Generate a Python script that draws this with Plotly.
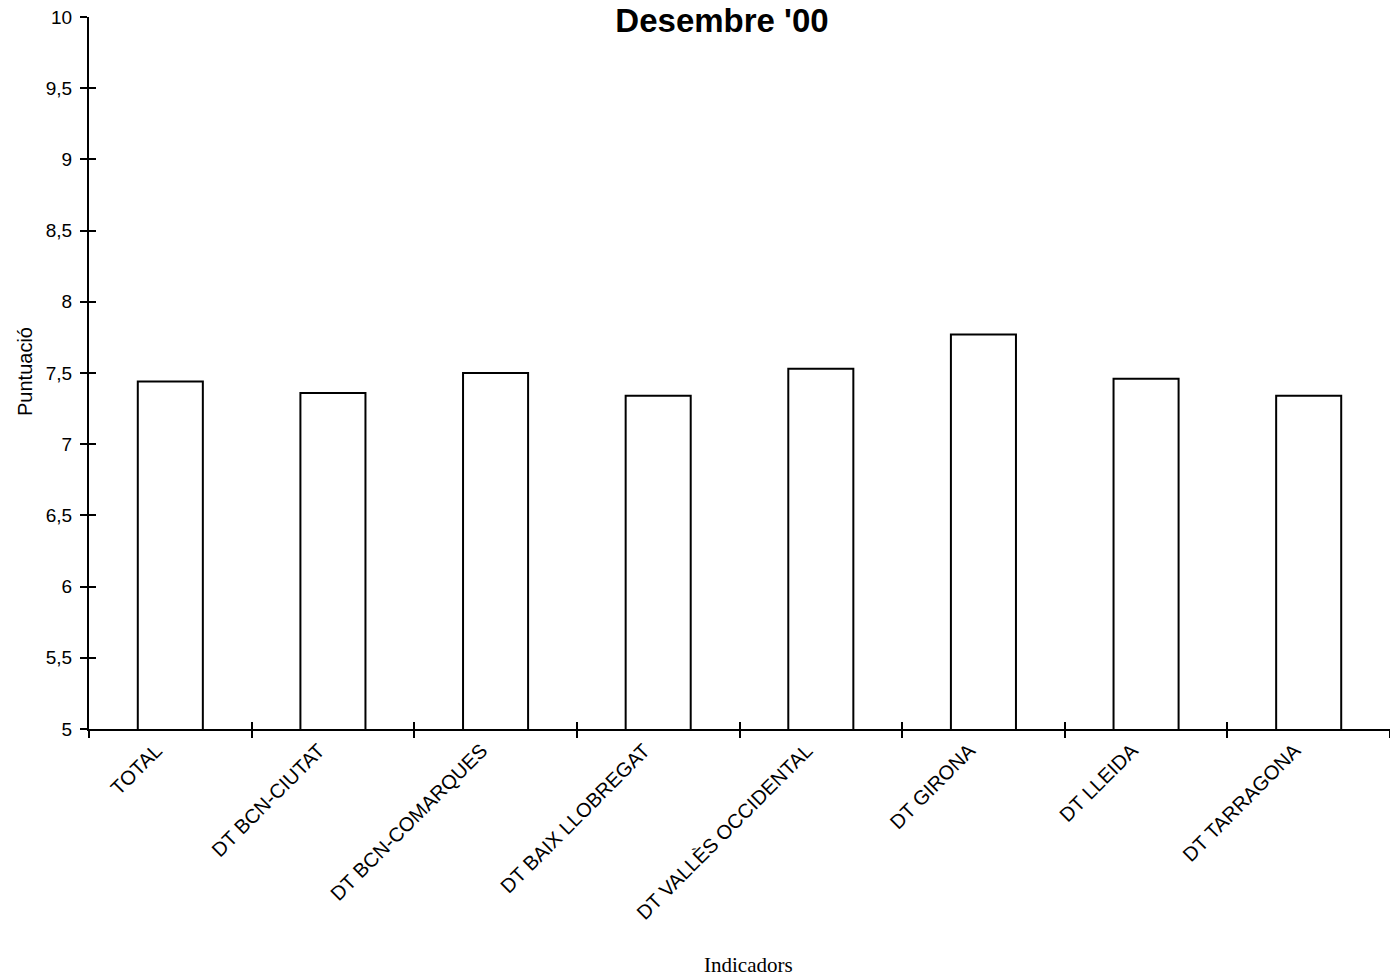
import plotly.graph_objects as go

categories = ["TOTAL", "DT BCN-CIUTAT", "DT BCN-COMARQUES", "DT BAIX LLOBREGAT",
              "DT VALLÈS OCCIDENTAL", "DT GIRONA", "DT LLEIDA", "DT TARRAGONA"]
values = [7.44, 7.36, 7.50, 7.34, 7.53, 7.77, 7.46, 7.34]
y_ticks = [5, 5.5, 6, 6.5, 7, 7.5, 8, 8.5, 9, 9.5, 10]
title_text = "Desembre '00"
x_title = "Indicadors"
y_title = "Puntuació"

SANS = "Liberation Sans, Arial"
SERIF = "Liberation Serif, Times New Roman"

W, H = 1390, 976
L, T, B, R = 89, 17, 247, 0
PW, PH = W - L - R, H - T - B

fig = go.Figure()
fig.add_trace(go.Bar(
    x=categories, y=values,
    marker=dict(color="white", line=dict(color="black", width=2)),
    width=0.4, showlegend=False,
))
# invisible helper trace for overlay axes (crossing ticks)
fig.add_trace(go.Scatter(x=[0], y=[5], xaxis="x2", yaxis="y2", mode="markers",
                         marker=dict(opacity=0), hoverinfo="skip", showlegend=False))

fig.update_layout(
    width=W, height=H,
    margin=dict(l=L, r=R, t=T, b=B, autoexpand=False),
    paper_bgcolor="white", plot_bgcolor="white",
    separators=",.",
    title=dict(text="<b>" + title_text + "</b>", x=722 / W, xanchor="center",
               y=1 - 20 / H, yanchor="middle",
               font=dict(family=SANS, size=33, color="black")),
    xaxis=dict(type="category", categoryorder="array", categoryarray=categories,
               range=[-0.5, 7.5],
               showline=True, linecolor="black", linewidth=2,
               ticks="outside", tickson="boundaries", ticklen=7, tickwidth=2,
               tickcolor="black", tickangle=-45, ticklabelshift=-14,
               ticklabeloverflow="allow",
               tickfont=dict(family=SANS, size=20, color="black"),
               showgrid=False, zeroline=False),
    yaxis=dict(range=[5, 10], tickvals=y_ticks,
               showline=True, linecolor="black", linewidth=2,
               ticks="outside", ticklen=7, tickwidth=2, tickcolor="black",
               ticklabeloverflow="allow",
               tickfont=dict(family=SANS, size=19, color="black"),
               showgrid=False, zeroline=False, ticklabelstandoff=4),
    xaxis2=dict(overlaying="x", range=[-0.5, 7.5], tickvals=[0.5, 1.5, 2.5, 3.5, 4.5, 5.5, 6.5],
                ticks="inside", ticklen=7, tickwidth=2, tickcolor="black",
                showticklabels=False, showgrid=False, zeroline=False, showline=False,
                side="bottom"),
    yaxis2=dict(overlaying="y", range=[5, 10], tickvals=y_ticks,
                ticks="inside", ticklen=7, tickwidth=2, tickcolor="black",
                showticklabels=False, showgrid=False, zeroline=False, showline=False,
                side="left"),
    annotations=[
        dict(text=x_title, xref="paper", yref="paper", x=(748 - L) / PW,
             y=(H - B - 965) / PH, xanchor="center", yanchor="middle", showarrow=False,
             font=dict(family=SERIF, size=21, color="black")),
        dict(text=y_title, xref="paper", yref="paper", x=(25 - L) / PW,
             y=(H - B - 372) / PH, xanchor="center", yanchor="middle", showarrow=False,
             textangle=-90, font=dict(family=SANS, size=20, color="black")),
    ],
)

fig.write_html("out.html", config={"displayModeBar": False},
               post_script="document.body.style.margin='0px';document.body.style.overflow='hidden';")
